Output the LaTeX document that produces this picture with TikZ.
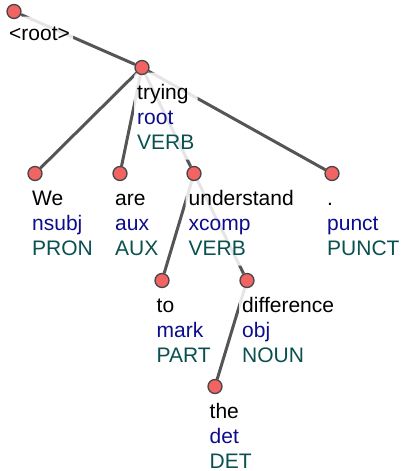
\documentclass[tikz,border=0pt]{standalone}
\usepackage{fontspec}
\setmainfont{Liberation Sans}
\usetikzlibrary{calc}

\definecolor{edgegray}{RGB}{85,85,85}
\definecolor{tokfill}{RGB}{242,100,100}
\definecolor{tokline}{RGB}{70,70,70}
\definecolor{relblue}{RGB}{12,12,140}
\definecolor{posteal}{RGB}{10,80,80}

\pgfdeclarelayer{edges}
\pgfdeclarelayer{halo}
\pgfdeclarelayer{tokens}
\pgfsetlayers{edges,halo,main,tokens}

% word / relation / part of speech, stacked
\newcommand{\tokentry}[3]{\strut #1\\\strut\textcolor{relblue}{#2}\\\textcolor{posteal}{#3}}

\begin{document}
\begin{tikzpicture}[x=1pt,y=-1pt,
  tok/.style={circle,minimum size=14pt,inner sep=0pt,fill=tokfill,draw=tokline,line width=1.3pt},
  arc/.style={draw=edgegray,line width=3pt},
  lab/.style={anchor=north west,inner sep=0pt,align=left,font=\fontsize{21}{25}\selectfont},
  halo/.style={fill=white,fill opacity=0.85,rounded corners=4pt}]
\useasboundingbox (0,0) rectangle (402,471);

% token markers
\begin{pgfonlayer}{tokens}
\node[tok] (n0) at (14,11.5) {};
\node[tok] (n1) at (142,67.5) {};
\node[tok] (n2) at (35,173.5) {};
\node[tok] (n3) at (120,173.5) {};
\node[tok] (n4) at (194,173.5) {};
\node[tok] (n5) at (332,173.5) {};
\node[tok] (n6) at (162,280.5) {};
\node[tok] (n7) at (247,280.5) {};
\node[tok] (n8) at (215,386.5) {};
\end{pgfonlayer}

% dependency arcs
\begin{pgfonlayer}{edges}
\draw[arc] (n0) -- (n1);
\draw[arc] (n1) -- (n2);
\draw[arc] (n1) -- (n3);
\draw[arc] (n1) -- (n4);
\draw[arc] (n1) -- (n5);
\draw[arc] (n4) -- (n6);
\draw[arc] (n4) -- (n7);
\draw[arc] (n7) -- (n8);
\end{pgfonlayer}

% labels
\node[lab] (l0) at ($(n0)+(-5,11)$) {\strut <root>};
\node[lab] (l1) at ($(n1)+(-5,14.2)$) {\tokentry{trying}{root}{VERB}};
\node[lab] (l2) at ($(n2)+(-3,14.2)$) {\tokentry{We}{nsubj}{PRON}};
\node[lab] (l3) at ($(n3)+(-5,14.2)$) {\tokentry{are}{aux}{AUX}};
\node[lab] (l4) at ($(n4)+(-5.5,14.2)$) {\tokentry{understand}{xcomp}{VERB}};
\node[lab] (l5) at ($(n5)+(-5,14.2)$) {\tokentry{.}{punct}{PUNCT}};
\node[lab] (l6) at ($(n6)+(-5.5,14.2)$) {\tokentry{to}{mark}{PART}};
\node[lab] (l7) at ($(n7)+(-5,14.2)$) {\tokentry{difference}{obj}{NOUN}};
\node[lab] (l8) at ($(n8)+(-5.5,14.2)$) {\tokentry{the}{det}{DET}};

% soft white backing behind the labels
\begin{pgfonlayer}{halo}
\foreach \l in {l1,l2,l3,l4,l5,l6,l7,l8}
  \fill[halo] ($(\l.north west)+(-3,-9)$) rectangle ($(\l.south east)+(3,10)$);
\fill[halo] ($(l0.north west)+(-3,-6)$) rectangle ($(l0.south east)+(3,3)$);
\end{pgfonlayer}
\end{tikzpicture}
\end{document}
